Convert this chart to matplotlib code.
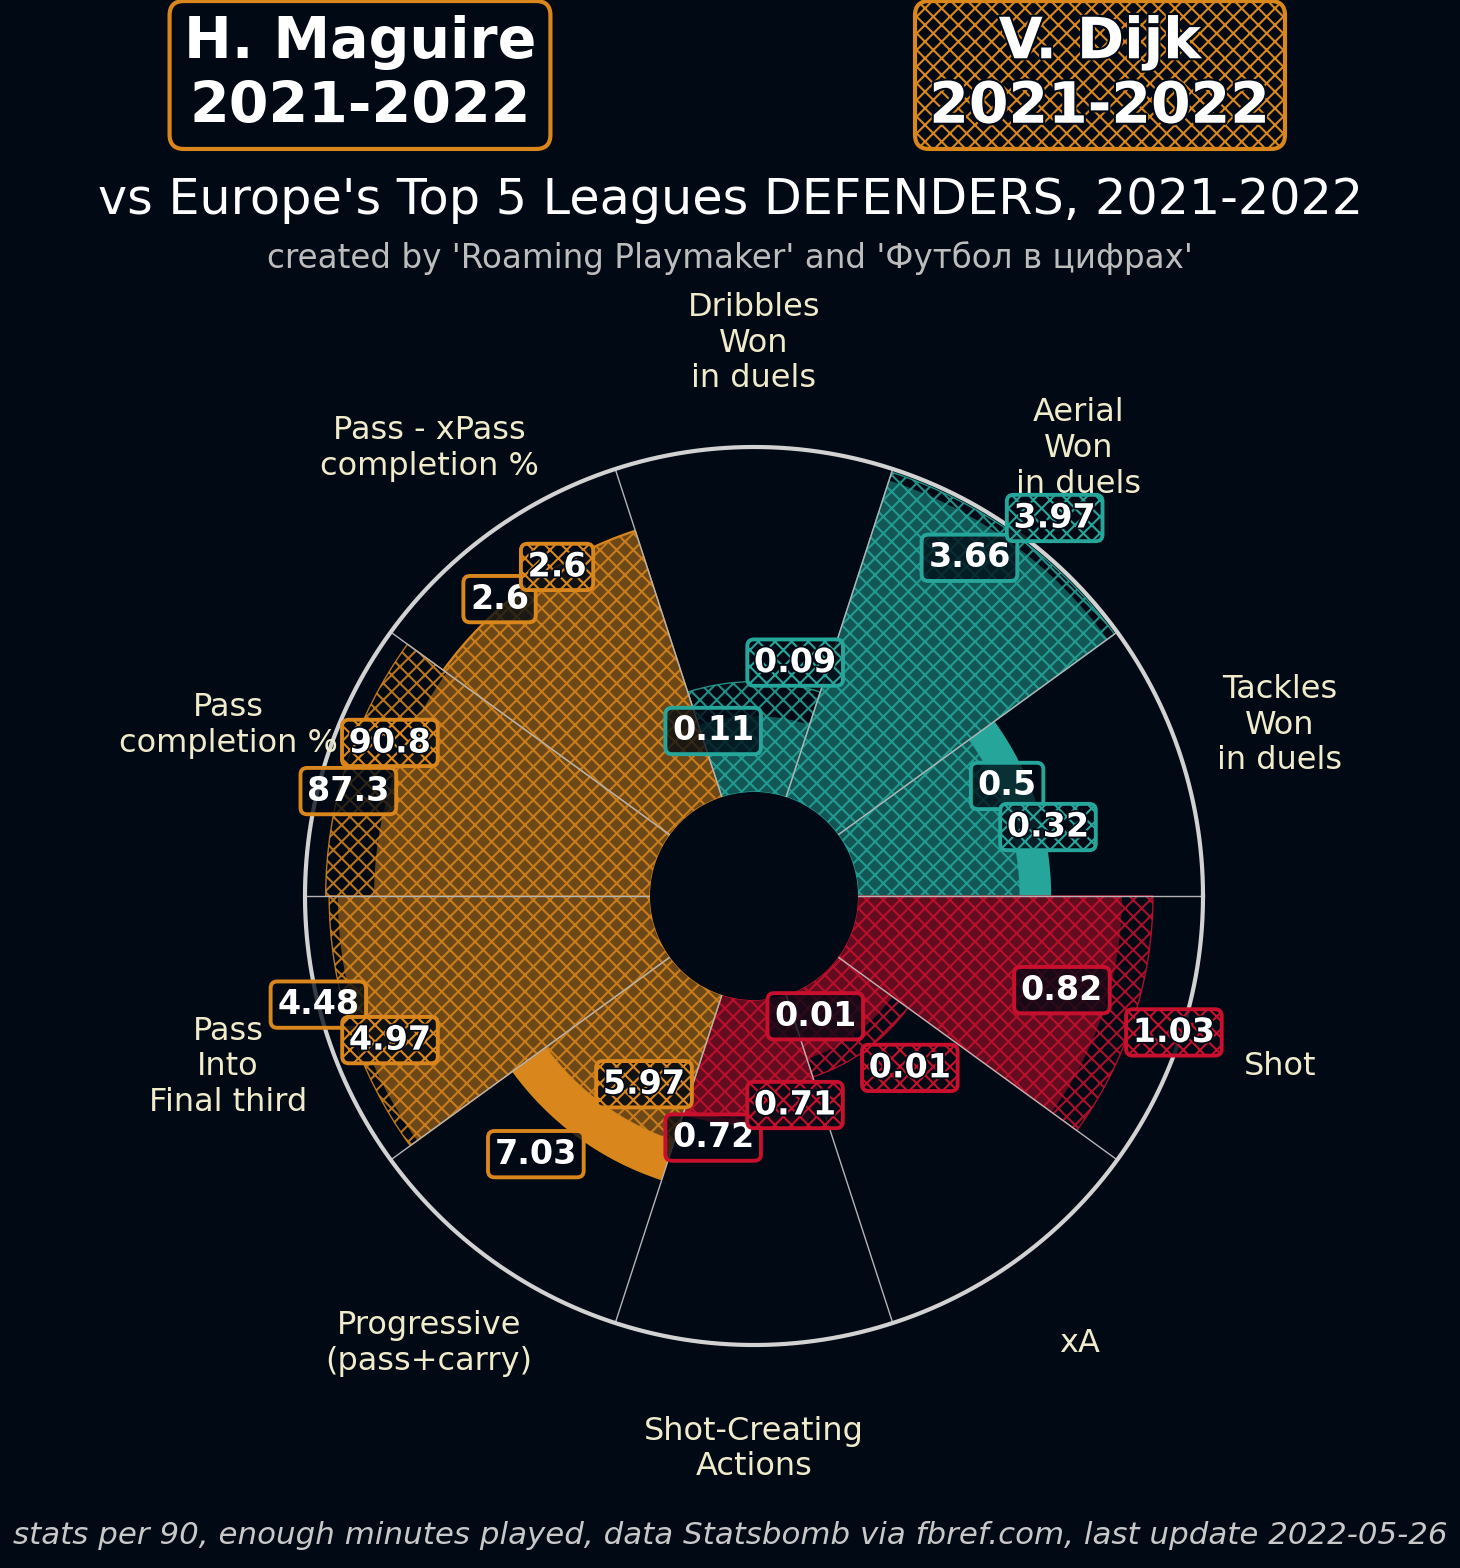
import numpy as np
import matplotlib
matplotlib.use("Agg")
from matplotlib import pyplot as plt
import matplotlib.patheffects as pe

# ---- data -------------------------------------------------------------
params = ["Dribbles\nWon\nin duels", "Aerial\nWon\nin duels", "Tackles\nWon\nin duels",
          "Shot", "xA", "Shot-Creating\nActions", "Progressive\n(pass+carry)",
          "Pass\nInto\nFinal third", "Pass\ncompletion %", "Pass - xPass\ncompletion %"]
groups = ["def", "def", "def", "att", "att", "att", "pass", "pass", "pass", "pass"]

maguire_raw = ["0.11", "3.66", "0.5", "0.82", "0.01", "0.72", "7.03", "4.48", "87.3", "2.6"]
dijk_raw = ["0.09", "3.97", "0.32", "1.03", "0.01", "0.71", "5.97", "4.97", "90.8", "2.6"]

# percentile ranks (bar lengths)
maguire_pct = [22, 96.5, 56, 76.5, 19.5, 36.5, 56.5, 90.5, 80, 81.5]
dijk_pct = [32, 99, 47, 85.5, 25, 35, 44.5, 93, 94, 81]

# ---- style ------------------------------------------------------------
BG = "#000914"
COLORS = {"def": "#26A69A", "att": "#C8102E", "pass": "#D9861C"}
PARAM_COL = "#F0EBCB"
R_IN, R_OUT, R_AX = 104, 449, 600   # radii in pixel-like units

plt.rcParams["hatch.linewidth"] = 1.5

# value label positions (angle deg, radius)
m_lab_pos = [(103.9, 170), (57.5, 401), (23.5, 276), (343, 322), (297, 135),
             (260.4, 245), (229.8, 338), (194, 449), (165.5, 419), (130.6, 391)]
d_lab_pos = [(80, 237), (51.5, 483), (13.2, 302), (342, 441.5), (312.2, 232),
             (281.1, 213), (239.7, 218), (201.6, 391.5), (157.2, 395), (120.9, 383.5)]


def bg_rgba(a):
    c = matplotlib.colors.to_rgb(BG)
    return (c[0], c[1], c[2], a)


def main():
    W, H = 1460, 1568
    fig = plt.figure(figsize=(W / 100, H / 100), dpi=100, facecolor=BG)

    cx, cy = 754, 896
    ax = fig.add_axes([(cx - R_AX) / W, (H - cy - R_AX) / H, 2 * R_AX / W, 2 * R_AX / H],
                      projection="polar")
    ax.set_ylim(0, R_AX)
    ax.axis("off")

    n = len(params)
    step = 2 * np.pi / n
    theta = np.deg2rad(90 - 36 * np.arange(n))
    cols = [COLORS[g] for g in groups]
    scale = (R_OUT - R_IN) / 100.0

    # Maguire: solid bars
    ax.bar(theta, np.array(maguire_pct) * scale, width=step, bottom=R_IN,
           color=cols, linewidth=0, zorder=1)
    # Dijk: hatched translucent bars on top
    for t, v, c in zip(theta, dijk_pct, cols):
        ec = matplotlib.colors.to_rgba(c, 0.85)
        ax.bar(t, v * scale, width=step, bottom=R_IN, facecolor=bg_rgba(0.5),
               edgecolor=ec, hatch="xx", linewidth=1, zorder=2)

    # spokes, inner hole and outer ring
    for t in theta:
        b = t - step / 2
        ax.plot([b, b], [R_IN, R_OUT], color="#b4b4b4", lw=1, zorder=3)
    ax.bar(0, R_IN, width=2 * np.pi, bottom=0, color=BG, linewidth=0, zorder=4)
    ring = np.linspace(0, 2 * np.pi, 600)
    ax.plot(ring, np.full_like(ring, R_OUT), color="#d2d2d2", lw=3, zorder=4)

    # parameter names
    for t, p in zip(theta, params):
        ax.text(t, 553, p, ha="center", va="center", fontsize=23, color=PARAM_COL,
                linespacing=1.2, zorder=5)

    # value boxes
    for (a, r), txt, c in zip(m_lab_pos, maguire_raw, cols):
        ax.text(np.deg2rad(a), r, txt, ha="center", va="center", fontsize=24,
                fontweight="bold", color="white", zorder=7,
                bbox=dict(boxstyle="round,pad=0.2", fc=bg_rgba(0.75), ec=c, lw=2.8))
    for (a, r), txt, c in zip(d_lab_pos, dijk_raw, cols):
        ax.text(np.deg2rad(a), r, txt, ha="center", va="center", fontsize=24,
                fontweight="bold", color="white", zorder=7,
                path_effects=[pe.withStroke(linewidth=2.5, foreground=BG)],
                bbox=dict(boxstyle="round,pad=0.2", fc=bg_rgba(0.85), ec=c, lw=2.8,
                          hatch="xx"))

    # player boxes
    orange = COLORS["pass"]
    fig.text(360 / W, 1 - 75 / H, "H. Maguire\n2021-2022", ha="center", va="center",
             fontsize=41, fontweight="bold", color="white", linespacing=1.22,
             bbox=dict(boxstyle="round,pad=0.25", fc=BG, ec=orange, lw=3))
    fig.text(1100 / W, 1 - 75 / H, "V. Dijk\n2021-2022", ha="center", va="center",
             fontsize=41, fontweight="bold", color="white", linespacing=1.22,
             path_effects=[pe.withStroke(linewidth=3, foreground=BG)],
             bbox=dict(boxstyle="round,pad=0.25", fc=BG, ec=orange, lw=3, hatch="xx"))

    fig.text(730 / W, 1 - 200 / H, "vs Europe's Top 5 Leagues DEFENDERS, 2021-2022",
             ha="center", va="center", fontsize=35.5, color="white")
    fig.text(730 / W, 1 - 258 / H, "created by 'Roaming Playmaker' and 'Футбол в цифрах'",
             ha="center", va="center", fontsize=23.5, color="#bdbdbd")
    fig.text(730 / W, 1 - 1535 / H,
             "stats per 90, enough minutes played, data Statsbomb via fbref.com, last update 2022-05-26",
             ha="center", va="center", fontsize=22.2, color="#c8c8c8", style="italic")

    fig.savefig("out.png", dpi=100, facecolor=BG)


if __name__ == "__main__":
    main()
